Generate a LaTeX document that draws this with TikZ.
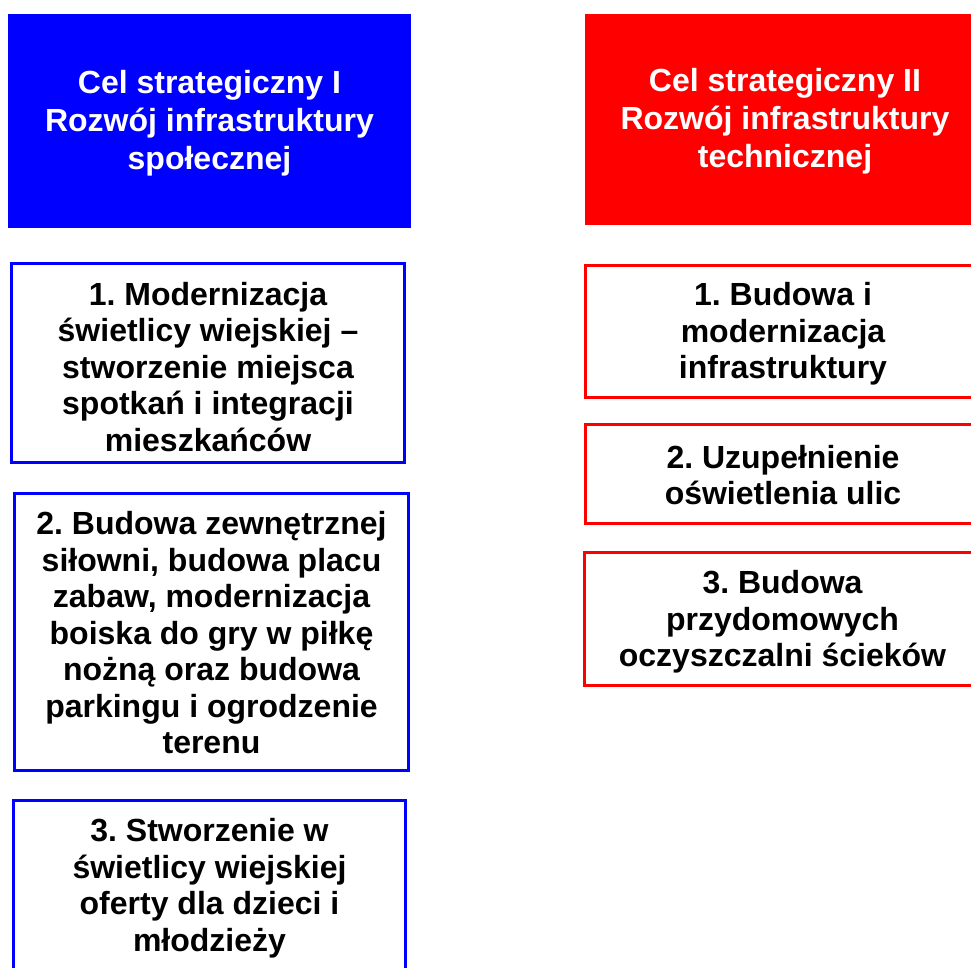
\documentclass[tikz,border=0pt]{standalone}
\usepackage{fontspec}
\setmainfont{Liberation Sans}
\frenchspacing
\definecolor{cblue}{RGB}{0,0,255}
\definecolor{cred}{RGB}{255,0,0}
\tikzset{
  x=1pt,y=-1pt,
  head/.style={fill=#1,draw=none,inner sep=0pt,outer sep=0pt},
  headtext/.style={inner sep=0pt,align=center,text=white,
    font=\fontsize{32}{38}\selectfont\bfseries},
  item/.style={draw=#1,line width=3pt,fill=white,inner sep=0pt,outer sep=0pt},
  itemtext/.style={inner sep=0pt,align=center,text=black,
    font=\fontsize{32}{36.5}\selectfont\bfseries},
}
\begin{document}
\begin{tikzpicture}
\useasboundingbox (0,0) rectangle (971,967);
\clip (0,0) rectangle (971,967);
\fill[white] (0,0) rectangle (971,967);
% headers
\node[head=cblue,minimum width=403pt,minimum height=214pt] (h1) at (209.5,121) {};
\node[headtext] (h1t) at ([yshift=-2pt]h1.center)
  {Cel strategiczny I\\Rozwój infrastruktury\\społecznej};
\node[head=cred,minimum width=400pt,minimum height=211pt] (h2) at (785,119.5) {};
\node[headtext] (h2t) at ([yshift=-2pt]h2.center)
  {Cel strategiczny II\\Rozwój infrastruktury\\technicznej};
% left items
\node[item=cblue,minimum width=393pt,minimum height=199pt] (l1) at (208,363) {};
\node[itemtext] (l1t) at ([yshift=-4pt]l1.center)
  {1. Modernizacja\\świetlicy wiejskiej --\\stworzenie miejsca\\spotkań i integracji\\mieszkańców};
\node[item=cblue,minimum width=394pt,minimum height=277pt] (l2) at (211.5,632) {};
\node[itemtext] (l2t) at ([yshift=-1pt]l2.center)
  {2. Budowa zewnętrznej\\siłowni, budowa placu\\zabaw, modernizacja\\boiska do gry w piłkę\\nożną oraz budowa\\parkingu i ogrodzenie\\terenu};
\node[item=cblue,minimum width=392pt,minimum height=169pt] (l3) at (209.5,885) {};
\node[itemtext] (l3t) at ([yshift=-3pt]l3.center)
  {3. Stworzenie w\\świetlicy wiejskiej\\oferty dla dzieci i\\młodzieży};
% right items
\node[item=cred,minimum width=395pt,minimum height=132pt] (r1) at (783,331) {};
\node[itemtext] (r1t) at ([yshift=-3pt]r1.center)
  {1. Budowa i\\modernizacja\\infrastruktury};
\node[item=cred,minimum width=395pt,minimum height=99pt] (r2) at (783,474) {};
\node[itemtext] (r2t) at ([yshift=-1pt]r2.center)
  {2. Uzupełnienie\\oświetlenia ulic};
\node[item=cred,minimum width=396pt,minimum height=133pt] (r3) at (782.5,619) {};
\node[itemtext] (r3t) at ([yshift=-3pt]r3.center)
  {3. Budowa\\przydomowych\\oczyszczalni ścieków};
\end{tikzpicture}
\end{document}
